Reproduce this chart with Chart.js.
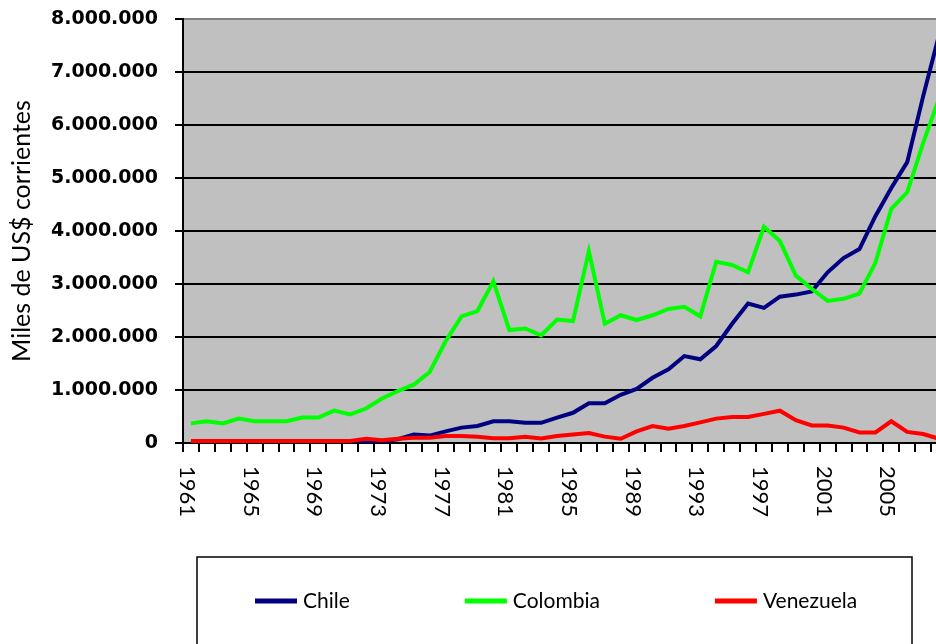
<!DOCTYPE html>
<html>
<head>
<meta charset="utf-8">
<script src="https://cdn.jsdelivr.net/npm/chart.js@4.4.1/dist/chart.umd.min.js"></script>
<style>
  html, body { margin: 0; padding: 0; background: #fff; overflow: hidden; }
  #wrap { position: absolute; left: 0; top: 0; width: 947px; height: 644px; }
</style>
</head>
<body>
<div id="wrap"><canvas id="myChart" width="947" height="644"></canvas></div>
<script>
// years on the x axis
var years = [];
for (var y = 1961; y <= 2008; y++) years.push(String(y));

// thousands of current US$
var chile = [30000, 30000, 30000, 30000, 30000, 30000, 30000, 30000, 30000, 30000, 30000,
  20000, 30000, 70000, 160000, 140000, 220000, 290000, 320000, 410000, 410000, 380000, 380000,
  480000, 570000, 750000, 750000, 910000, 1020000, 1230000, 1390000, 1640000, 1580000, 1830000,
  2250000, 2630000, 2550000, 2760000, 2800000, 2860000, 3220000, 3490000, 3660000, 4280000,
  4810000, 5300000, 6540000, 7700000];

var colombia = [370000, 410000, 370000, 460000, 410000, 410000, 410000, 480000, 480000, 610000,
  540000, 650000, 840000, 980000, 1100000, 1340000, 1920000, 2390000, 2490000, 3050000, 2130000,
  2160000, 2030000, 2330000, 2300000, 3620000, 2250000, 2410000, 2320000, 2410000, 2530000,
  2570000, 2390000, 3420000, 3360000, 3220000, 4080000, 3810000, 3160000, 2910000, 2680000,
  2720000, 2820000, 3400000, 4420000, 4730000, 5660000, 6500000];

var venezuela = [40000, 40000, 40000, 40000, 40000, 40000, 40000, 40000, 40000, 40000, 40000,
  80000, 50000, 80000, 100000, 100000, 130000, 130000, 120000, 90000, 90000, 120000, 85000,
  130000, 160000, 190000, 120000, 80000, 220000, 320000, 270000, 320000, 390000, 460000, 490000,
  490000, 550000, 610000, 430000, 330000, 330000, 290000, 200000, 200000, 410000, 210000,
  170000, 80000];

var seriesNames = ['Chile', 'Colombia', 'Venezuela'];
var seriesColors = ['#000080', '#00ff00', '#ff0000'];

// only every 4th year gets a label
var shownYears = ['1961', '1965', '1969', '1973', '1977', '1981', '1985', '1989', '1993', '1997', '2001', '2005'];

function miles(v) {
  return String(v).replace(/\B(?=(\d{3})+(?!\d))/g, '.');
}

// grey plot background
var plotBg = {
  id: 'plotBg',
  beforeDraw: function(chart) {
    var a = chart.chartArea, ctx = chart.ctx;
    ctx.save();
    ctx.fillStyle = '#c0c0c0';
    ctx.fillRect(a.left, a.top, a.right - a.left, a.bottom - a.top);
    ctx.restore();
  }
};

// year labels turned to read downwards
var yearLabels = {
  id: 'yearLabels',
  afterDraw: function(chart) {
    var xs = chart.scales.x, ctx = chart.ctx;
    ctx.save();
    ctx.fillStyle = '#000';
    ctx.font = '22px Lato';
    ctx.textAlign = 'left';
    ctx.textBaseline = 'middle';
    years.forEach(function(yr, i) {
      if (shownYears.indexOf(yr) < 0) return;
      ctx.save();
      ctx.translate(xs.getPixelForValue(i) - 4, 466);
      ctx.rotate(Math.PI / 2);
      ctx.fillText(yr, 0, 0);
      ctx.restore();
    });
    ctx.restore();
  }
};

// boxed legend under the chart
var boxLegend = {
  id: 'boxLegend',
  afterDraw: function(chart) {
    var ctx = chart.ctx;
    ctx.save();
    ctx.strokeStyle = '#000';
    ctx.lineWidth = 1.5;
    ctx.strokeRect(197, 557, 715, 120);
    ctx.font = '21px Lato';
    ctx.textBaseline = 'middle';
    var x = 255, yy = 601;
    chart.data.datasets.forEach(function(ds) {
      ctx.fillStyle = ds.borderColor;
      ctx.fillRect(x, yy - 2.5, 42, 5);
      ctx.fillStyle = '#000';
      ctx.fillText(ds.label, x + 48, yy);
      x += 48 + ctx.measureText(ds.label).width + 115;
    });
    ctx.restore();
  }
};

var ctx = document.getElementById('myChart').getContext('2d');
var chart = new Chart(ctx, {
  type: 'line',
  data: {
    labels: years,
    datasets: [
      { label: seriesNames[0], data: chile, borderColor: seriesColors[0], order: 2 },
      { label: seriesNames[1], data: colombia, borderColor: seriesColors[1], order: 1 },
      { label: seriesNames[2], data: venezuela, borderColor: seriesColors[2], order: 0 }
    ]
  },
  options: {
    responsive: false,
    animation: false,
    devicePixelRatio: 1,
    layout: { padding: { top: 19, left: 0, right: 0, bottom: 0 } },
    elements: {
      line: { borderWidth: 4, tension: 0, fill: false },
      point: { radius: 0 }
    },
    plugins: {
      legend: { display: false },
      tooltip: { enabled: false }
    },
    scales: {
      x: {
        offset: true,
        afterFit: function(s) {
          s.height = 201;
          s.paddingLeft = 0; s.paddingRight = 0;
        },
        grid: {
          offset: true,
          drawOnChartArea: false,
          drawTicks: true,
          tickLength: 9,
          color: '#000',
          lineWidth: 2
        },
        border: { display: true, color: '#000', width: 2 },
        ticks: { display: false }
      },
      y: {
        min: 0,
        max: 8000000,
        afterFit: function(s) {
          s.width = 183;
          s.paddingTop = 0; s.paddingBottom = 0;
        },
        grid: {
          color: function(c) { return c.tick && c.tick.value === 8000000 ? '#808080' : '#000'; },
          lineWidth: 2,
          tickLength: 8,
          tickColor: '#000'
        },
        border: { display: true, color: '#000', width: 2 },
        ticks: {
          stepSize: 1000000,
          padding: 17,
          color: '#000',
          font: { family: 'DejaVu Sans', size: 19, weight: 'bold' },
          callback: function(v) { return miles(v); }
        },
        title: {
          display: true,
          text: 'Miles de US$ corrientes',
          color: '#000',
          font: { family: 'Lato', size: 25 },
          padding: { top: 7, bottom: 0 }
        }
      }
    }
  },
  plugins: [plotBg, yearLabels, boxLegend]
});
</script>
</body>
</html>
